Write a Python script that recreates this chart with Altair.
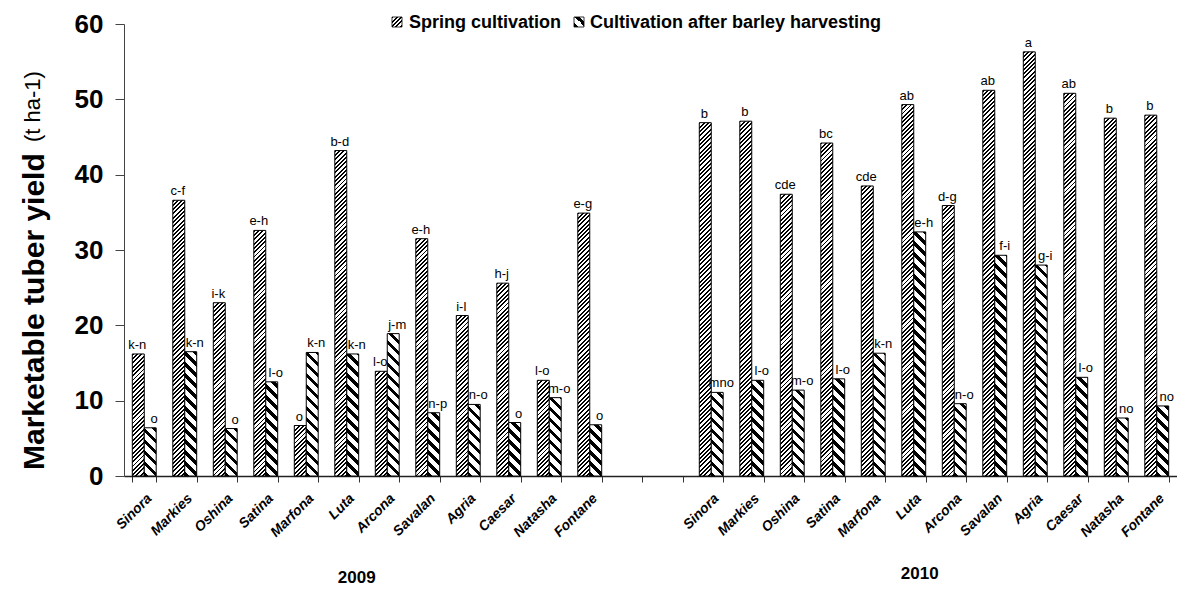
import altair as alt

cultivars = ["Sinora", "Markies", "Oshina", "Satina", "Marfona", "Luta",
             "Arcona", "Savalan", "Agria", "Caesar", "Natasha", "Fontane"]
years = ["2009", "2010"]
series = ["Spring cultivation", "Cultivation after barley harvesting"]

spring_2009 = [16.2, 36.6, 23.0, 32.6, 6.7, 43.2, 13.9, 31.5, 21.3, 25.6, 12.7, 34.9]
barley_2009 = [6.4, 16.5, 6.3, 12.5, 16.4, 16.2, 18.9, 8.4, 9.5, 7.1, 10.4, 6.8]
spring_2010 = [46.9, 47.1, 37.4, 44.2, 38.5, 49.3, 35.9, 51.2, 56.3, 50.8, 47.5, 47.9]
barley_2010 = [11.1, 12.7, 11.4, 12.9, 16.3, 32.4, 9.6, 29.3, 28.0, 13.1, 7.7, 9.3]

spring_2009_sig = ["k-n", "c-f", "i-k", "e-h", "o", "b-d", "l-o", "e-h", "i-l", "h-j", "l-o", "e-g"]
barley_2009_sig = ["o", "k-n", "o", "l-o", "k-n", "k-n", "j-m", "n-p", "n-o", "o", "m-o", "o"]
spring_2010_sig = ["b", "b", "cde", "bc", "cde", "ab", "d-g", "ab", "a", "ab", "b", "b"]
barley_2010_sig = ["mno", "l-o", "m-o", "l-o", "k-n", "e-h", "n-o", "f-i", "g-i", "l-o", "no", "no"]

# ---- layout constants ----
W, H = 1053, 452
N_SLOTS = 26
PAD_IN, PAD_OUT = 0.41, 0.205
STEP = W / N_SLOTS
BAR_W = STEP * (1 - PAD_IN) / 2
PPU = H / 60.0
FONT = "Liberation Sans"


def hatch(w, h, period, frac, kind):
    """Linear gradient with hard stops that imitates diagonal hatching."""
    w = max(w, 1.0)
    h = max(h, 1.0)
    total = w + h
    k = total / (w * w + h * h)
    if kind == "fwd":
        x1, y1, x2, y2 = 0, 0, w * k, h * k
    else:
        x1, y1, x2, y2 = 0, 1, w * k, 1 - h * k
    n = total / period
    stops = []
    i = 0
    while i / n < 1:
        a, b, c = i / n, min((i + frac) / n, 1), min((i + 1) / n, 1)
        stops += [
            {"offset": round(a, 5), "color": "#000000"},
            {"offset": round(b, 5), "color": "#000000"},
            {"offset": round(b, 5), "color": "#ffffff"},
            {"offset": round(c, 5), "color": "#ffffff"},
        ]
        i += 1
    return {"gradient": "linear", "x1": round(x1, 6), "y1": round(y1, 6),
            "x2": round(x2, 6), "y2": round(y2, 6), "stops": stops}


slots = [f"{c}_2009" for c in cultivars] + ["gapA", "gapB"] + [f"{c}_2010" for c in cultivars]

table = {
    ("2009", series[0]): (spring_2009, spring_2009_sig),
    ("2009", series[1]): (barley_2009, barley_2009_sig),
    ("2010", series[0]): (spring_2010, spring_2010_sig),
    ("2010", series[1]): (barley_2010, barley_2010_sig),
}

records = []
for (yr, s), (vals, sigs) in table.items():
    for c, v, g in zip(cultivars, vals, sigs):
        if s == series[0]:
            grad = hatch(BAR_W, v * PPU, 4.3, 0.45, "fwd")
        else:
            grad = hatch(BAR_W, v * PPU, 11.0, 0.42, "back")
        records.append({"slot": f"{c}_{yr}", "series": s, "value": v,
                        "sig": g, "grad": grad})

data = alt.Data(values=records)

x_enc = alt.X(
    "slot:N",
    sort=slots,
    scale=alt.Scale(domain=slots, paddingInner=PAD_IN, paddingOuter=PAD_OUT),
    axis=alt.Axis(
        title=None,
        labelAngle=-45,
        labelExpr="indexof(datum.label, '_') > 0 ? split(datum.label, '_')[0] : ''",
        labelFont=FONT,
        labelFontStyle="italic",
        labelFontWeight="bold",
        labelFontSize=14,
        labelColor="black",
        labelPadding=9,
        tickBand="extent",
        tickSize=6,
        tickColor="#333333",
        domainColor="#222222",
        domainWidth=1.5,
    ),
)
xoff_enc = alt.XOffset("series:N", sort=series,
                       scale=alt.Scale(domain=series, paddingInner=0, paddingOuter=0))
y_enc = alt.Y(
    "value:Q",
    scale=alt.Scale(domain=[0, 60], nice=False),
    axis=alt.Axis(
        title=None,
        values=[0, 10, 20, 30, 40, 50, 60],
        grid=False,
        labelFont=FONT,
        labelFontSize=26,
        labelFontWeight="bold",
        labelColor="black",
        labelPadding=12,
        tickSize=9,
        tickColor="#444444",
        domainColor="#444444",
    ),
)

base = alt.Chart(data)

bars = base.mark_bar(stroke="black", strokeWidth=1).encode(
    x=x_enc,
    xOffset=xoff_enc,
    y=y_enc,
    fill=alt.Fill("grad:N", scale=None),
)

lab_spring = base.transform_filter(alt.datum.series == series[0]).mark_text(
    baseline="alphabetic", dy=-5, dx=-1, fontSize=13, font=FONT, color="black"
).encode(x=alt.X("slot:N", sort=slots), xOffset=alt.XOffset("series:N", sort=series),
         y="value:Q", text="sig:N")

lab_barley = base.transform_filter(alt.datum.series == series[1]).mark_text(
    baseline="alphabetic", dy=-5, dx=4, fontSize=13, font=FONT, color="black"
).encode(x=alt.X("slot:N", sort=slots), xOffset=alt.XOffset("series:N", sort=series),
         y="value:Q", text="sig:N")

# year labels under each group
year_2009 = alt.Chart(alt.Data(values=[{"slot": "Luta_2009", "t": years[0]}])).mark_text(
    font=FONT, fontWeight="bold", fontSize=17, dx=10, baseline="middle"
).encode(x=alt.X("slot:N", sort=slots), y=alt.value(554), text="t:N")
year_2010 = alt.Chart(alt.Data(values=[{"slot": "Luta_2010", "t": years[1]}])).mark_text(
    font=FONT, fontWeight="bold", fontSize=17, dx=6, baseline="middle"
).encode(x=alt.X("slot:N", sort=slots), y=alt.value(550), text="t:N")

# y-axis title in two styles
ytitle_main = alt.Chart(alt.Data(values=[{"t": "Marketable tuber yield"}])).mark_text(
    font=FONT, fontWeight="bold", fontSize=30, angle=270,
    align="left", baseline="middle"
).encode(x=alt.value(-89), y=alt.value(446), text="t:N")
ytitle_unit = alt.Chart(alt.Data(values=[{"t": "(t ha-1)"}])).mark_text(
    font=FONT, fontSize=22, angle=270, align="left", baseline="middle"
).encode(x=alt.value(-91), y=alt.value(118), text="t:N")

# legend
leg_sq1 = alt.Chart(alt.Data(values=[{"k": 1}])).mark_square(
    size=100, fill=hatch(10, 10, 4.3, 0.45, "fwd"), stroke="black", strokeWidth=0.8, opacity=1
).encode(x=alt.value(273), y=alt.value(-2))
leg_sq2 = alt.Chart(alt.Data(values=[{"k": 1}])).mark_square(
    size=100, fill=hatch(10, 10, 11.0, 0.42, "back"), stroke="black", strokeWidth=0.8, opacity=1
).encode(x=alt.value(455), y=alt.value(-2))
leg_t1 = alt.Chart(alt.Data(values=[{"t": series[0]}])).mark_text(
    font=FONT, fontWeight="bold", fontSize=18, align="left", baseline="middle"
).encode(x=alt.value(285), y=alt.value(-1), text="t:N")
leg_t2 = alt.Chart(alt.Data(values=[{"t": series[1]}])).mark_text(
    font=FONT, fontWeight="bold", fontSize=18, align="left", baseline="middle"
).encode(x=alt.value(466), y=alt.value(-1), text="t:N")

chart = alt.layer(
    bars, lab_spring, lab_barley, year_2009, year_2010,
    ytitle_main, ytitle_unit, leg_sq1, leg_sq2, leg_t1, leg_t2,
).properties(
    width=W, height=H,
    autosize=alt.AutoSizeParams(type="none"),
    padding={"left": 116, "top": 16, "right": 0, "bottom": 110},
    background="white",
).configure_view(stroke=None)

chart.save("out.html", embed_options={"renderer": "svg", "actions": False})
